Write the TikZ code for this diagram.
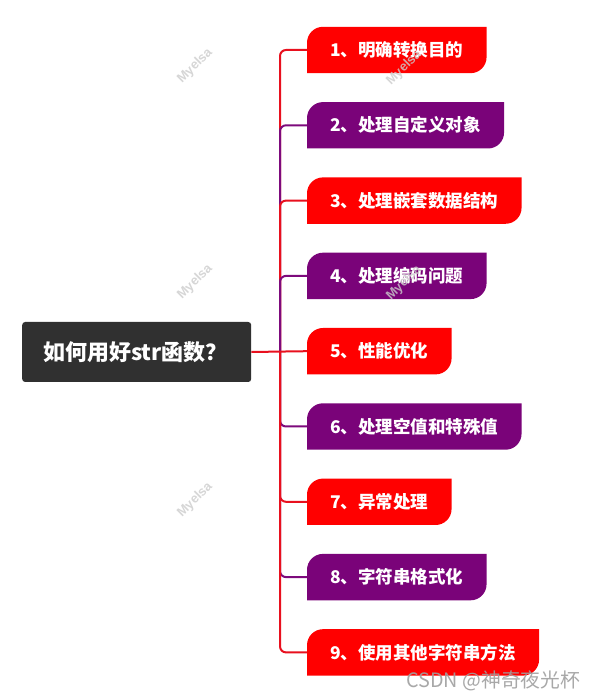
\documentclass[tikz,border=0pt]{standalone}
\usepackage{fontspec}
\newfontfamily\cjk{Noto Sans CJK SC}
\newfontfamily\wmfont{Liberation Sans}
\usetikzlibrary{backgrounds}
\definecolor{boxred}{HTML}{FF0000}
\definecolor{boxpurple}{HTML}{7A0379}
\definecolor{linered}{HTML}{E8101E}
\definecolor{linepurple}{HTML}{7D0A7C}
\definecolor{rootgray}{HTML}{303030}
\tikzset{
  x=1pt, y=1pt,
  branch/.style={anchor=west, text=white, font=\cjk\bfseries\fontsize{17.5}{20}\selectfont,
    inner xsep=23pt, inner ysep=0pt, minimum height=46pt},
  rootbox/.style={anchor=west, fill=rootgray, rounded corners=3pt, text=white,
    font=\cjk\bfseries\fontsize{22}{26}\selectfont, inner xsep=21pt, inner ysep=0pt,
    minimum height=60pt, text width=187pt, align=left},
  conn/.style={line width=2pt, rounded corners=6pt},
  wm/.style={rotate=45, text=gray!40, opacity=0.8, font=\wmfont\bfseries\fontsize{13}{15}\selectfont},
}
\newcommand{\leafshape}[2]{%
  \fill[#2] (#1.south west) -- ([yshift=-16pt]#1.north west)
    arc[start angle=180, end angle=90, radius=16pt] -- (#1.north east)
    -- ([yshift=16pt]#1.south east)
    arc[start angle=0, end angle=-90, radius=16pt] -- cycle;}
\begin{document}
\begin{tikzpicture}
\useasboundingbox (0,0) rectangle (595,700);

\node[rootbox] (root) at (22,348) {如何用好str函数？};
\coordinate (hub) at (280,348);

\node[branch] (n1) at (307,650.0) {1、明确转换目的};
\node[branch] (n2) at (307,574.7) {2、处理自定义对象};
\node[branch] (n3) at (307,499.4) {3、处理嵌套数据结构};
\node[branch] (n4) at (307,424.1) {4、处理编码问题};
\node[branch] (n5) at (307,348.8) {5、性能优化};
\node[branch] (n6) at (307,273.5) {6、处理空值和特殊值};
\node[branch] (n7) at (307,198.2) {7、异常处理};
\node[branch] (n8) at (307,122.9) {8、字符串格式化};
\node[branch] (n9) at (307,47.6) {9、使用其他字符串方法};

\begin{scope}[on background layer]
  \fill[white] (0,0) rectangle (595,700);
  \leafshape{n1}{boxred}
  \leafshape{n2}{boxpurple}
  \leafshape{n3}{boxred}
  \leafshape{n4}{boxpurple}
  \leafshape{n5}{boxred}
  \leafshape{n6}{boxpurple}
  \leafshape{n7}{boxred}
  \leafshape{n8}{boxpurple}
  \leafshape{n9}{boxred}
  \draw[conn, linered] (hub) |- (n1.west);
  \draw[conn, linepurple] (hub) |- (n2.west);
  \draw[conn, linered] (hub) |- (n3.west);
  \draw[conn, linepurple] (hub) |- (n4.west);
  \draw[conn, linepurple] (hub) |- (n6.west);
  \draw[conn, linered] (hub) |- (n7.west);
  \draw[conn, linepurple] (hub) |- (n8.west);
  \draw[conn, linered] (hub) |- (n9.west);
  \draw[line width=2pt, linered] (root.east) -- (n5.west);
\end{scope}

\node[wm] (w1) at (195,634) {Myelsa};
\node[wm] (w2) at (195,418) {Myelsa};
\node[wm] (w3) at (195,200) {Myelsa};
\node[wm] (w4) at (404,632) {Myelsa};
\node[wm] (w5) at (404,417) {Myelsa};

\node[anchor=west, text=gray!75, opacity=0.9, font=\cjk\fontsize{19.8}{23}\selectfont, inner sep=0pt] (csdn) at (406,19) {CSDN @神奇夜光杯};
\end{tikzpicture}
\end{document}
